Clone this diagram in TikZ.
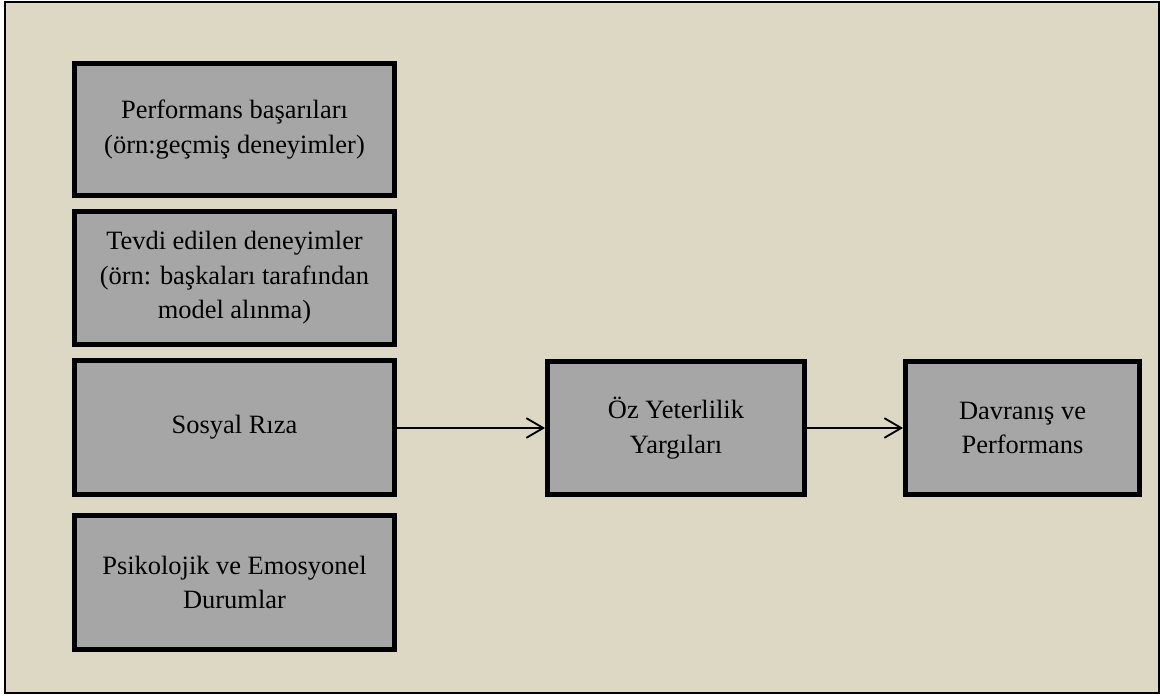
\documentclass[tikz,border=0pt]{standalone}
\usepackage{fontspec}
\setmainfont{Liberation Serif}
\usetikzlibrary{arrows.meta}

\definecolor{kagit}{HTML}{DDD8C3}
\definecolor{kutugri}{HTML}{A6A6A6}

\tikzset{
  kutu/.style={draw=black, line width=3.5pt, fill=kutugri, align=center,
    inner sep=0pt, font=\fontsize{18.8}{24.6}\selectfont},
  ok/.style={line width=1.3pt, -{Straight Barb[length=12pt,width=14pt,line width=1.3pt]}}
}

\begin{document}
\begin{tikzpicture}
        % Page size and beige frame
        \useasboundingbox (0,0) rectangle (29,17.4);
        \draw[line width=1.4pt, fill=kagit] (0.125,0.075) rectangle (28.975,17.35);
        % Left column: sources
        \node[kutu, minimum width=8cm, minimum height=3.3cm] (basari) at (5.8625,14.1625)
          {Performans başarıları\\(örn:geçmiş deneyimler)};
        \node[kutu, minimum width=8cm, minimum height=3.325cm] (tevdi) at (5.8625,10.45)
          {Tevdi edilen deneyimler\\(örn: başkaları tarafından\\model alınma)};
        \node[kutu, minimum width=8cm, minimum height=3.35cm] (riza) at (5.8625,6.7125)
          {Sosyal Rıza};
        \node[kutu, minimum width=8cm, minimum height=3.35cm] (psiko) at (5.8625,2.8375)
          {Psikolojik ve Emosyonel\\Durumlar};
        % Middle and right boxes
        \node[kutu, minimum width=6.425cm, minimum height=3.325cm] (oz) at (16.9,6.7)
          {Öz Yeterlilik\\Yargıları};
        \node[kutu, minimum width=5.85cm, minimum height=3.325cm] (davranis) at (25.5625,6.7)
          {Davranış ve\\Performans};
        % Arrows
        \draw[ok] (riza.east |- oz.west) -- (oz.west);
        \draw[ok] (oz.east) -- (davranis.west);
      \end{tikzpicture}
\end{document}
